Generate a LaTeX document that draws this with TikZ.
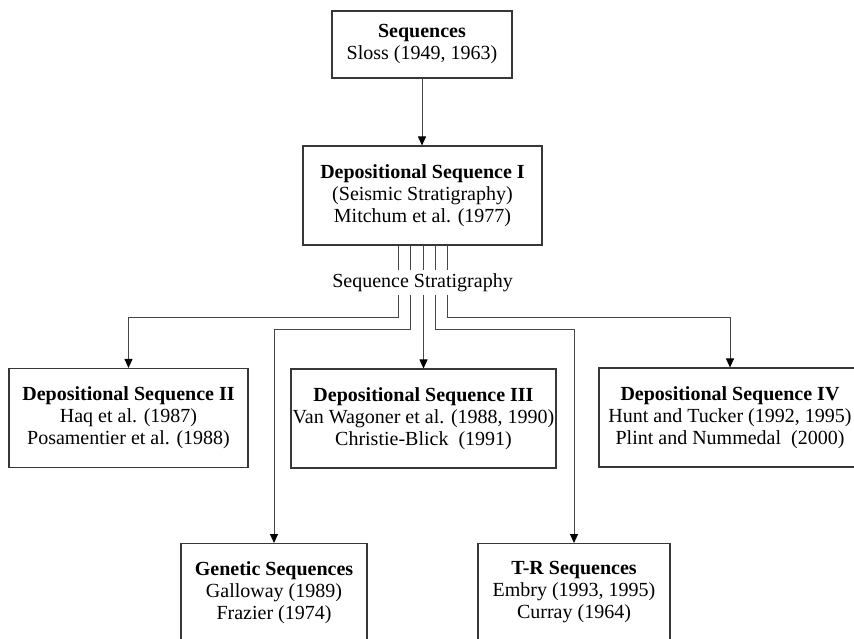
\documentclass[tikz,border=0pt]{standalone}
\usepackage{fontspec}
\setmainfont{Liberation Serif}
\usepackage{tikz}
\usetikzlibrary{arrows.meta}
\definecolor{boxgray}{RGB}{55,55,55}
\definecolor{linkgray}{RGB}{70,70,70}
\pgfkeys{tikz/seqbox/.style={draw=boxgray, line width=1.1pt, align=center,
                                 inner sep=0pt, minimum height=99pt,
                                 font=\fontsize{20}{22}\selectfont}}
\pgfkeys{tikz/seqlink/.style={draw=linkgray, line width=0.9pt,
                                  -{Triangle[length=9pt,width=8pt,color=black]}}}

\begin{document}
\begin{tikzpicture}[x=1pt, y=-1pt]
                \useasboundingbox (0,0) rectangle (854,639);
                \clip (0,0) rectangle (854,639);

                \node[seqbox, minimum width=180pt, minimum height=67pt] (seq) at (422,44.5)
                    {\textbf{Sequences}\\Sloss (1949, 1963)};
                \node[seqbox, minimum width=239pt] (dsI) at (422.5,195.5)
                    {\textbf{Depositional Sequence I}\\(Seismic Stratigraphy)\\Mitchum et al. (1977)};

                \draw[seqlink] (seq.south) -- (seq.south |- dsI.north);

                \node[seqbox, minimum width=239pt] (dsII) at (128.5,418)
                    {\textbf{Depositional Sequence II}\\Haq et al. (1987)\\Posamentier et al. (1988)};
                \node[seqbox, minimum width=265pt] (dsIII) at (423.5,418.5)
                    {\textbf{Depositional Sequence III}\\Van Wagoner et al. (1988, 1990)\\Christie-Blick\ \ (1991)};
                \node[seqbox, minimum width=262pt] (dsIV) at (730,417.5)
                    {\textbf{Depositional Sequence IV}\\Hunt and Tucker (1992, 1995)\\Plint and Nummedal\ \ (2000)};

                \node[seqbox, minimum width=186pt, anchor=north, inner ysep=18pt, text depth=45pt] (gen) at (274,543)
                    {\textbf{Genetic Sequences}\\Galloway (1989)\\Frazier (1974)};
                \node[seqbox, minimum width=192pt, anchor=north, inner ysep=18pt, text depth=45pt] (tr) at (574,543)
                    {\textbf{T-R Sequences}\\Embry (1993, 1995)\\Curray (1964)};

                \coordinate (k1) at (398,317);
                \coordinate (k2) at (410.5,329);
                \coordinate (k4) at (435,329);
                \coordinate (k5) at (447,317);

                \draw[seqlink] (dsI.south -| k1) -- (k1) -| (dsII.north);
                \draw[seqlink] (dsI.south -| k2) -- (k2) -| (gen.north);
                \draw[seqlink] (dsI.south -| dsIII.north) -- (dsIII.north);
                \draw[seqlink] (dsI.south -| k4) -- (k4) -| (tr.north);
                \draw[seqlink] (dsI.south -| k5) -- (k5) -| (dsIV.north);

                \node[fill=white, inner xsep=3pt, inner ysep=3pt, font=\fontsize{20}{22}\selectfont] (strat) at (422.5,282.5)
                    {Sequence Stratigraphy};
\end{tikzpicture}
\end{document}
